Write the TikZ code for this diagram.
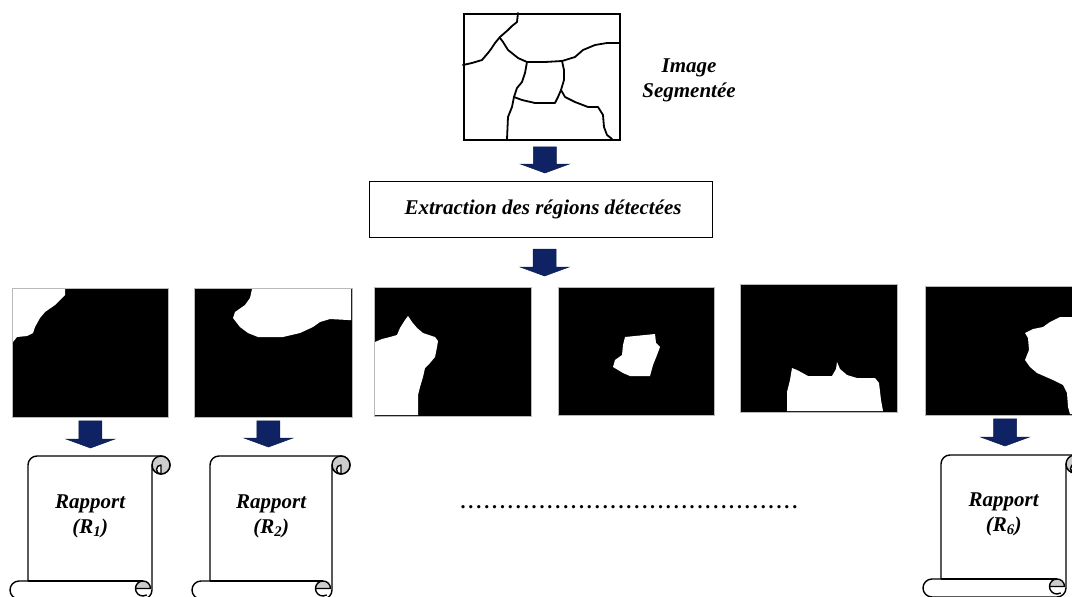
\documentclass[tikz,border=0pt]{standalone}
\usepackage{fontspec}
\setmainfont{Liberation Serif}
\usetikzlibrary{calc}
\definecolor{navy}{RGB}{15,35,100}
\tikzset{
  seg/.style={line width=1.8pt, line join=round, line cap=round},
  regbox/.style={draw=gray!55, fill=black, line width=0.9pt, inner sep=0pt, anchor=north west},
  lbl/.style={font=\fontsize{21}{25}\selectfont\bfseries\itshape, align=center, inner sep=0pt},
  scrollline/.style={line width=1.4pt, line join=round},
  holder/.style={inner sep=0pt, anchor=north west},
}
\newcommand{\barrow}[2]{%
  \filldraw[fill=navy, draw=navy!80!black, line width=0.5pt] let \p1=#1, \p2=#2 in
    (\x1-11.5pt,\y1) -- (\x1+11.5pt,\y1) -- (\x1+11.5pt,\y2+9pt) -- (\x1+24.5pt,\y2+9pt)
    -- (\x1,\y2) -- (\x1-24.5pt,\y2+9pt) -- (\x1-11.5pt,\y2+9pt) -- cycle;}
\newcommand{\scrollshape}[3]{%
  \begin{scope}[shift={(#1.north west)}]
    \pgfmathsetmacro{\sW}{#2}\pgfmathsetmacro{\sH}{#3}%
    \def\sc{18}\def\sch{9}\def\scq{4.5}\def\er{7.5}%
    \filldraw[scrollline, fill=white] (\sc,\sH-\sc) -- (\sc,\sch)
      arc[start angle=180,end angle=270,radius=\sch] -- (\sW-\sch,0)
      arc[start angle=270,end angle=540,radius=\sch] -- (\sW-\sc,\sH-\sch)
      arc[start angle=0,end angle=90,radius=\sch] -- (\sch,\sH)
      arc[start angle=90,end angle=270,radius=\sch] -- cycle;
    \filldraw[scrollline, fill=gray!40] (\sW-\sch,\sch) circle[radius=\sch];
    \filldraw[scrollline, fill=white] (\sW-\sch,\sch) arc[start angle=270,end angle=90,radius=\scq] -- cycle;
    \draw[scrollline] (\sc,\sH-\sc) -- (\sW-\sc-\sch,\sH-\sc);
    \fill[gray!40] (\sW-\sc-\sch-\er,\sH-\sc+\er) arc[start angle=180,end angle=360,radius=\er] -- cycle;
    \draw[scrollline] (\sW-\sc-\sch-\er,\sH-\sc+\er) -- (\sW-\sc-\sch+\er,\sH-\sc+\er)
      arc[start angle=0,end angle=-300,radius=\er];
  \end{scope}}
\begin{document}
\begin{tikzpicture}[x=1pt,y=-1pt]
\useasboundingbox (0,0) rectangle (1072,597);
\clip (0,0) rectangle (1072,597);

% segmented image
\node[draw, line width=1.8pt, minimum width=156pt, minimum height=126pt, inner sep=0pt, anchor=north west] (img) at (463,13) {};
\draw[seg] (518,13) -- (517,22) -- (512,26) -- (508,30) -- (500,37) -- (495,43) -- (491,49) -- (488,53) -- (482,60) -- (472,63) -- (463,65);
\draw[seg] (500,38) -- (503,42) -- (508,50) -- (513,54) -- (518,58) -- (527,62) -- (545,62) -- (562,61) -- (575,57) -- (583,50) -- (595,45) -- (607,43) -- (619,43);
\draw[seg] (527,62) -- (525,73) -- (522,82) -- (517,88) -- (514,97) -- (512,107) -- (508,117) -- (507,139);
\draw[seg] (514,97) -- (522,100) -- (535,103) -- (555,103) -- (558,97) -- (561,90);
\draw[seg] (562,61) -- (564,70) -- (564,80) -- (561,90) -- (565,97) -- (575,102) -- (588,107) -- (598,107) -- (603,115) -- (604,127) -- (607,135) -- (612,139);
\node[lbl] (imgtxt) at (689,80) {Image\\Segmentée};

% extraction box
\node[draw, line width=1.2pt, minimum width=343pt, minimum height=56pt, anchor=north west] (ext) at (369,181) {};
\node[lbl] (exttxt) at ([xshift=2pt]ext.center) {Extraction des régions détectées};

% regions
\node[regbox, minimum width=156pt, minimum height=129pt] (r1) at (12,288) {};
\node[regbox, minimum width=158pt, minimum height=129pt] (r2) at (194,288) {};
\node[regbox, minimum width=157pt, minimum height=129pt] (r3) at (374,287) {};
\node[regbox, minimum width=156pt, minimum height=128pt] (r4) at (558,287) {};
\node[regbox, minimum width=157pt, minimum height=128pt] (r5) at (740,284) {};
\node[regbox, minimum width=160pt, minimum height=129pt] (r6) at (925,286) {};
\fill[white] (13,289) -- (65,289) -- (65,295) -- (55,305) -- (45,312) -- (40,318) -- (35,327) -- (33,333) -- (27,336) -- (17,337) -- (13,342) -- cycle;
\fill[white] (252,289) -- (250,298) -- (245,305) -- (235,312) -- (233,318) -- (240,327) -- (248,333) -- (258,337) -- (283,337) -- (300,333) -- (313,327) -- (320,322) -- (330,319) -- (348,320) -- (351,320) -- (351,289) -- cycle;
\fill[white] (375,342) -- (382,339) -- (390,337) -- (397,335) -- (400,328) -- (405,320) -- (408,316) -- (412,322) -- (417,328) -- (423,333) -- (435,337) -- (438,341) -- (437,347) -- (435,357) -- (430,363) -- (425,368) -- (423,377) -- (420,387) -- (418,395) -- (418,415) -- (375,415) -- cycle;
\fill[white] (625,337) -- (655,334) -- (656,343) -- (660,347) -- (657,355) -- (653,365) -- (650,376) -- (630,376) -- (623,373) -- (613,367) -- (615,360) -- (622,355) -- (623,345) -- cycle;
\fill[white] (787,411) -- (787,392) -- (790,380) -- (792,368) -- (797,370) -- (808,376) -- (832,376) -- (836,369) -- (837,362) -- (840,369) -- (847,375) -- (857,378) -- (875,378) -- (879,383) -- (881,400) -- (883,411) -- cycle;
\fill[white] (1072,317) -- (1060,317) -- (1050,322) -- (1043,327) -- (1033,329) -- (1025,333) -- (1028,338) -- (1029,350) -- (1025,360) -- (1030,367) -- (1037,373) -- (1053,380) -- (1063,385) -- (1067,393) -- (1068,407) -- (1070,414) -- (1080,414) -- (1080,317) -- cycle;

% scrolls
\node[holder, minimum width=160pt, minimum height=143pt] (s1) at (10,456) {};
\node[holder, minimum width=158pt, minimum height=143pt] (s2) at (192,456) {};
\node[holder, minimum width=161pt, minimum height=142pt] (s6) at (923,455) {};
\scrollshape{s1}{160}{143}
\scrollshape{s2}{158}{143}
\scrollshape{s6}{161}{142}
\node[lbl] (t1) at ([yshift=-60pt]s1.north) {Rapport\\(R\textsubscript{1})};
\node[lbl] (t2) at ([yshift=-60pt]s2.north) {Rapport\\(R\textsubscript{2})};
\node[lbl] (t6) at ([yshift=-59pt]s6.north) {Rapport\\(R\textsubscript{6})};

% dots
\node[anchor=base, inner sep=0pt, font=\fontsize{20}{25}\selectfont\bfseries] (dots) at (629,508) {\foreach \i in {1,...,43}{\makebox[7.9pt]{.}}};

% block arrows
\coordinate (rowtop) at (544,287);
\barrow{([xshift=3pt,yshift=-6pt]img.south)}{([xshift=3pt,yshift=8pt]img.south |- ext.north)}
\barrow{([xshift=3.5pt,yshift=-11pt]ext.south)}{([yshift=11pt]rowtop)}
\barrow{([yshift=-3pt]r1.south)}{([yshift=8pt]r1.south |- s1.north)}
\barrow{([xshift=-5pt,yshift=-3pt]r2.south)}{([xshift=-5pt,yshift=9pt]r2.south |- s2.north)}
\barrow{([xshift=80pt,yshift=-3pt]r6.south west)}{([xshift=80pt,yshift=9pt]r6.south west |- s6.north)}
\end{tikzpicture}
\end{document}
